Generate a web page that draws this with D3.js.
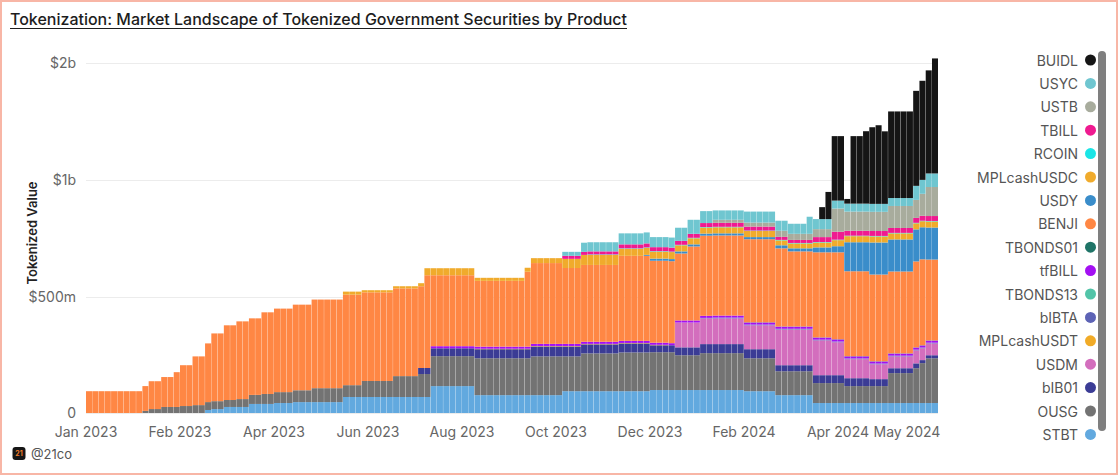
<!DOCTYPE html>
<html>
<head>
<meta charset="utf-8">
<script src="https://cdn.jsdelivr.net/npm/d3@7.9.0/dist/d3.min.js"></script>
<style>
  body { margin: 0; background: #fff; }
  svg { display: block; font-family: Inter, "Noto Sans", sans-serif; }
</style>
</head>
<body>
<svg id="chart" width="1120" height="476"></svg>
<script>
// values in $ millions, one entry per bar (136 bars, Jan 2023 -> May 2024)
const N = 136;

const STBT = [
  0,0,0,0,0,0,0,0,0,0,  0,0,0,0,0,0,0,0,0,13,
  17,17,26,26,26,26,39,39,39,39,  43,43,43,47,47,47,47,47,47,47,
  47,69,69,69,69,69,69,69,69,69,  69,69,69,69,69,116,116,116,116,116,
  116,116,77,77,77,77,77,77,77,77,  77,77,77,77,77,77,94,94,94,94,
  94,94,94,94,94,94,94,94,94,94,  99,99,99,99,99,99,99,99,99,99,
  99,99,99,99,99,94,94,94,94,94,  77,77,77,77,77,77,43,43,43,43,
  43,43,43,43,43,43,43,43,43,43,  43,43,43,43,43,43];
const OUSG = [
  0,0,0,0,0,0,0,0,0,9,  17,17,26,26,26,30,30,34,34,34,
  34,34,30,30,34,34,39,39,43,43,  47,47,47,51,51,51,60,60,60,60,
  60,51,51,51,69,69,69,69,69,90,  90,90,90,99,99,129,129,129,129,129,
  129,129,159,159,159,159,159,159,159,159,  159,167,167,167,167,167,150,150,150,163,
  163,163,163,163,163,167,167,167,167,167,  163,163,163,163,150,150,150,150,159,159,
  159,159,159,159,159,142,142,142,142,142,  103,103,103,103,103,103,86,86,86,86,
  86,73,73,73,73,73,73,73,129,129,  129,129,150,172,193,193];
const bIB01 = [
  0,0,0,0,0,0,0,0,0,0,  0,0,0,0,0,0,0,0,0,0,
  0,0,0,0,0,0,0,0,0,0,  0,0,0,0,0,0,0,0,0,0,
  0,0,0,0,0,0,0,0,0,0,  0,0,0,26,26,34,34,34,34,34,
  34,34,39,39,39,39,39,39,39,39,  39,43,43,43,43,43,43,43,43,39,
  39,39,39,39,39,39,39,39,39,39,  30,30,30,30,34,34,34,34,39,39,
  39,39,39,39,39,39,39,39,39,39,  26,26,26,26,26,26,34,34,34,34,
  34,34,34,34,34,30,30,30,21,21,  21,21,21,13,13,13];
const USDM = [
  0,0,0,0,0,0,0,0,0,0,  0,0,0,0,0,0,0,0,0,0,
  0,0,0,0,0,0,0,0,0,0,  0,0,0,0,0,0,0,0,0,0,
  0,0,0,0,0,0,0,0,0,0,  0,0,0,0,0,0,0,0,0,0,
  0,0,0,0,0,0,0,0,0,0,  0,0,0,0,0,0,0,0,0,0,
  0,0,0,0,0,0,0,0,0,0,  0,0,0,0,107,107,107,107,111,111,
  111,111,111,111,111,103,103,103,103,103,  154,154,154,154,154,154,150,150,150,142,
  142,82,82,82,82,64,64,64,51,51,  51,51,56,51,51,51];
const MPLcashUSDT = [
  0,0,0,0,0,0,0,0,0,0,  0,0,0,0,0,0,0,0,0,0,
  0,0,0,0,0,0,0,0,0,0,  0,0,0,0,0,0,0,0,0,0,
  0,0,0,0,0,0,0,0,0,0,  0,0,0,0,0,0,0,0,0,0,
  0,0,2,2,2,2,2,2,2,2,  2,2,2,2,2,2,2,2,2,2,
  2,2,2,2,2,2,2,2,2,2,  2,2,2,0,0,0,0,0,0,0,
  0,0,0,0,0,0,0,0,0,0,  0,0,0,0,0,0,0,0,0,0,
  0,0,0,0,0,0,0,0,0,0,  0,0,0,0,0,0];
const bIBTA = [
  0,0,0,0,0,0,0,0,0,0,  0,0,0,0,0,0,0,0,0,0,
  0,0,0,0,0,0,0,0,0,0,  0,0,0,0,0,0,0,0,0,0,
  0,0,0,0,0,0,0,0,0,0,  0,0,0,0,0,0,0,0,0,0,
  0,0,0,0,0,0,0,0,0,0,  0,0,0,0,0,0,0,0,0,0,
  0,0,0,0,0,0,0,0,0,0,  0,0,0,0,0,0,0,0,2,2,
  2,2,2,2,2,2,2,2,2,2,  2,2,2,2,2,2,2,2,2,2,
  2,2,2,2,2,2,2,2,2,2,  2,2,2,2,2,2];
const TBONDS13 = [
  0,0,0,0,0,0,0,0,0,0,  0,0,0,0,0,0,0,0,0,0,
  0,0,0,0,0,0,0,0,0,0,  0,0,0,0,0,0,0,0,0,0,
  0,0,0,0,0,0,0,0,0,0,  0,0,0,0,0,0,0,0,0,0,
  0,0,0,0,0,0,0,0,0,0,  0,0,0,0,0,0,0,0,0,0,
  0,0,0,0,0,0,0,0,0,0,  0,0,0,0,0,0,0,0,0,0,
  1,1,1,1,1,1,1,1,1,1,  1,1,1,1,1,1,1,1,1,1,
  1,1,1,1,1,1,1,1,1,1,  1,1,1,1,1,1];
const tfBILL = [
  0,0,0,0,0,0,0,0,0,0,  0,0,0,0,0,0,0,0,0,0,
  0,0,0,0,0,0,0,0,0,0,  0,0,0,0,0,0,0,0,0,0,
  0,0,0,0,0,0,0,0,0,0,  0,0,0,0,0,9,9,9,9,9,
  9,9,9,9,9,9,9,9,9,9,  9,9,9,9,9,9,9,9,9,9,
  9,9,9,9,9,9,9,9,9,9,  9,9,9,9,9,9,9,9,9,9,
  9,9,9,9,9,9,9,9,9,9,  9,9,9,9,9,9,9,9,9,9,
  9,9,9,9,9,9,9,9,9,9,  9,9,9,9,9,9];
const TBONDS01 = [
  0,0,0,0,0,0,0,0,0,0,  0,0,0,0,0,0,0,0,0,0,
  0,0,0,0,0,0,0,0,0,0,  0,0,0,0,0,0,0,0,0,0,
  0,0,0,0,0,0,0,0,0,0,  0,0,0,0,0,0,0,0,0,0,
  0,0,0,0,0,0,0,0,0,0,  0,0,0,0,0,0,0,0,0,0,
  0,0,0,0,0,0,0,0,0,0,  0,0,0,0,0,0,0,0,0,0,
  0,0,0,0,0,1,1,1,1,1,  1,1,1,1,1,1,1,1,1,1,
  1,1,1,1,1,1,1,1,1,1,  1,1,1,1,1,1];
const BENJI = [
  94,94,94,94,94,94,94,94,94,107,  120,120,129,129,150,176,176,210,210,253,
  292,292,322,322,335,335,330,330,352,352,  360,360,360,369,369,369,382,382,382,382,
  382,390,390,390,382,382,382,382,382,378,  378,378,378,352,399,305,305,305,305,305,
  305,305,283,283,283,283,283,283,283,283,  322,347,347,347,347,347,326,326,326,330,
  330,330,330,330,330,365,365,365,365,365,  352,352,352,352,287,287,317,317,343,343,
  343,343,343,343,343,356,356,356,356,356,  335,335,322,322,322,322,365,365,365,373,
  373,365,365,365,365,373,373,373,352,352,  352,352,369,369,347,347];
const USDY = [
  0,0,0,0,0,0,0,0,0,0,  0,0,0,0,0,0,0,0,0,0,
  0,0,0,0,0,0,0,0,0,0,  0,0,0,0,0,0,0,0,0,0,
  0,0,0,0,0,0,0,0,0,0,  0,0,0,0,0,0,0,0,0,0,
  0,0,0,0,0,0,0,0,0,0,  0,0,0,0,0,0,0,0,0,0,
  0,0,0,0,0,0,0,0,0,4,  9,9,9,9,9,9,9,9,9,9,
  9,9,9,9,9,9,9,9,9,9,  13,13,13,13,13,13,21,21,21,26,
  26,124,124,124,124,137,137,137,137,137,  137,137,137,137,137,137];
const MPLcashUSDC = [
  0,0,0,0,0,0,0,0,0,0,  0,0,0,0,0,0,0,0,0,0,
  0,0,0,0,0,0,0,0,0,0,  0,0,0,0,0,0,0,0,0,0,
  0,13,13,13,9,9,9,9,9,9,  9,9,9,13,30,30,30,30,30,30,
  30,30,13,13,13,13,13,13,13,13,  17,21,21,21,21,21,39,39,39,43,
  43,43,43,43,43,30,30,30,30,30,  30,30,30,30,26,26,26,26,26,26,
  26,26,26,26,26,26,26,26,26,26,  21,21,21,21,21,21,21,21,21,26,
  26,26,26,26,26,26,26,26,26,26,  26,26,26,26,26,26];
const RCOIN = [
  0,0,0,0,0,0,0,0,0,0,  0,0,0,0,0,0,0,0,0,0,
  0,0,0,0,0,0,0,0,0,0,  0,0,0,0,0,0,0,0,0,0,
  0,0,0,0,0,0,0,0,0,0,  0,0,0,0,0,0,0,0,0,0,
  0,0,0,0,0,0,0,0,0,0,  0,0,0,0,0,0,0,0,0,0,
  2,2,2,2,2,2,2,2,2,2,  2,2,2,2,2,2,2,2,2,2,
  2,2,2,2,2,2,2,2,2,2,  2,2,2,2,2,2,2,2,2,2,
  2,2,2,2,2,2,2,2,2,2,  2,2,2,2,2,2];
const TBILL = [
  0,0,0,0,0,0,0,0,0,0,  0,0,0,0,0,0,0,0,0,0,
  0,0,0,0,0,0,0,0,0,0,  0,0,0,0,0,0,0,0,0,0,
  0,0,0,0,0,0,0,0,0,0,  0,0,0,0,0,0,0,0,0,0,
  0,0,0,0,0,0,0,0,0,0,  0,0,0,0,0,0,13,13,13,13,
  13,13,13,13,13,17,17,17,17,17,  17,17,17,17,17,17,17,17,17,17,
  17,17,17,17,17,17,17,17,17,17,  13,13,13,13,13,13,21,21,21,34,
  34,21,21,21,21,21,21,21,21,21,  21,21,21,21,21,21];
const USTB = [
  0,0,0,0,0,0,0,0,0,0,  0,0,0,0,0,0,0,0,0,0,
  0,0,0,0,0,0,0,0,0,0,  0,0,0,0,0,0,0,0,0,0,
  0,0,0,0,0,0,0,0,0,0,  0,0,0,0,0,0,0,0,0,0,
  0,0,0,0,0,0,0,0,0,0,  0,0,0,0,0,0,0,0,0,0,
  0,0,0,0,0,0,0,0,0,0,  0,0,0,0,0,0,0,0,0,0,
  13,13,13,13,13,17,17,17,17,17,  26,26,26,26,26,26,34,34,34,99,
  99,82,82,82,82,82,82,82,94,94,  94,94,77,94,124,124];
const USYC = [
  0,0,0,0,0,0,0,0,0,0,  0,0,0,0,0,0,0,0,0,0,
  0,0,0,0,0,0,0,0,0,0,  0,0,0,0,0,0,0,0,0,0,
  0,0,0,0,0,0,0,0,0,0,  0,0,0,0,0,0,0,0,0,0,
  0,0,0,0,0,0,0,0,0,0,  0,0,0,0,0,0,17,17,17,39,
  39,39,39,39,39,47,47,47,47,47,  43,43,43,43,56,56,60,60,51,51,
  40,40,40,40,40,47,47,47,47,47,  43,43,43,43,43,73,43,43,43,34,
  34,34,34,34,34,34,34,34,34,34,  34,34,60,60,86,86];
const BUIDL = [
  0,0,0,0,0,0,0,0,0,0,  0,0,0,0,0,0,0,0,0,0,
  0,0,0,0,0,0,0,0,0,0,  0,0,0,0,0,0,0,0,0,0,
  0,0,0,0,0,0,0,0,0,0,  0,0,0,0,0,0,0,0,0,0,
  0,0,0,0,0,0,0,0,0,0,  0,0,0,0,0,0,0,0,0,0,
  0,0,0,0,0,0,0,0,0,0,  0,0,0,0,0,0,0,0,0,0,
  0,0,0,0,0,0,0,0,0,0,  0,0,0,0,0,0,0,51,116,463,
  463,20,476,476,518,553,570,518,663,663,  663,663,787,847,881,983];

// legend order (top -> bottom); the stack is drawn bottom -> top
const legendKeys = ["BUIDL","USYC","USTB","TBILL","RCOIN","MPLcashUSDC","USDY","BENJI",
  "TBONDS01","tfBILL","TBONDS13","bIBTA","MPLcashUSDT","USDM","bIB01","OUSG","STBT"];
const legendColors = ["#151515","#6fc6d0","#a8ac9d","#ef1a90","#1ae5e6","#f0ab2c","#3a8dca","#ff8744",
  "#1f7467","#a310f2","#52c4a8","#5d63b5","#f1ab27","#d36ebd","#3b3c95","#737373","#62a9df"];

const tickIndex = [0, 15, 30, 45, 60, 75, 90, 105, 120, 131];
const tickLabels = ["Jan 2023","Feb 2023","Apr 2023","Jun 2023","Aug 2023","Oct 2023",
  "Dec 2023","Feb 2024","Apr 2024","May 2024"];
const yTicks = [0, 500, 1000, 2000];
const yTickLabels = ["0", "$500m", "$1b", "$2b"];

const series = {STBT, OUSG, bIB01, USDM, MPLcashUSDT, bIBTA, TBONDS13, tfBILL, TBONDS01,
  BENJI, USDY, MPLcashUSDC, RCOIN, TBILL, USTB, USYC, BUIDL};
Object.entries(series).forEach(([k, v]) => {
  if (v.length !== N) throw new Error(k + " has " + v.length + " values");
});

const stackKeys = legendKeys.slice().reverse();
const color = d3.scaleOrdinal(legendKeys, legendColors);

const rows = d3.range(N).map(i => {
  const row = { i };
  stackKeys.forEach(k => row[k] = series[k][i]);
  return row;
});

const svg = d3.select("#chart");

// page frame
svg.append("rect")
  .attr("x", 1).attr("y", 1).attr("width", 1116).attr("height", 473)
  .attr("fill", "none").attr("stroke", "#f8b6a6").attr("stroke-width", 2);

const x = d3.scaleBand().domain(d3.range(N)).range([86, 938]).paddingInner(0.04);
// the source axis is compressed above $1b
const y = d3.scaleLinear().domain(yTicks).range([413, 297, 180, 63]);

// y axis + gridlines
const yAxis = svg.append("g")
  .attr("transform", "translate(86,0)")
  .call(d3.axisLeft(y).tickValues(yTicks).tickFormat((d, i) => yTickLabels[i])
    .tickSize(-852).tickPadding(10));
yAxis.select(".domain").remove();
yAxis.selectAll("line").attr("stroke", "#ececec");
yAxis.selectAll("text").attr("fill", "#666").style("font-size", "14px")
  .style("font-family", "Inter, sans-serif");

// bars
const stacked = d3.stack().keys(stackKeys)(rows);
svg.append("g")
  .selectAll("g")
  .data(stacked)
  .join("g")
  .attr("fill", d => color(d.key))
  .selectAll("rect")
  .data(d => d.filter(p => p[1] - p[0] > 0))
  .join("rect")
  .attr("x", d => x(d.data.i))
  .attr("width", x.bandwidth())
  .attr("y", d => y(d[1]))
  .attr("height", d => y(d[0]) - y(d[1]));

// x axis, labels at the start of each tick bar
const xAxis = svg.append("g")
  .attr("transform", `translate(${-x.bandwidth() / 2},413)`)
  .call(d3.axisBottom(x).tickValues(tickIndex).tickFormat((d, i) => tickLabels[i])
    .tickSize(0).tickPadding(14));
xAxis.select(".domain").remove();
xAxis.selectAll("text").attr("fill", "#666").style("font-size", "14px")
  .style("font-family", "Inter, sans-serif");

// y axis title
svg.append("text")
  .attr("transform", "translate(32,233) rotate(-90)")
  .attr("text-anchor", "middle")
  .attr("dominant-baseline", "central")
  .attr("fill", "#222")
  .style("font-size", "13px")
  .style("font-weight", 600)
  .text("Tokenized Value");

// title
svg.append("text")
  .attr("x", 10).attr("y", 25)
  .attr("fill", "#1d1d1d")
  .attr("textLength", 617)
  .attr("lengthAdjust", "spacingAndGlyphs")
  .style("font-size", "16px")
  .style("font-weight", 500)
  .text("Tokenization: Market Landscape of Tokenized Government Securities by Product");
svg.append("line")
  .attr("x1", 10).attr("x2", 627).attr("y1", 28.5).attr("y2", 28.5)
  .attr("stroke", "#1d1d1d").attr("stroke-width", 1);

// legend
const legend = svg.append("g");
const item = legend.selectAll("g")
  .data(legendKeys)
  .join("g")
  .attr("transform", (d, i) => `translate(0,${60 + i * 23.4})`);
item.append("text")
  .attr("x", 1078)
  .attr("text-anchor", "end")
  .attr("dominant-baseline", "central")
  .attr("fill", "#555")
  .style("font-size", "14px")
  .text(d => d);
item.append("circle")
  .attr("cx", 1090.5)
  .attr("r", 5.5)
  .attr("fill", d => color(d));

// legend scrollbar
svg.append("rect")
  .attr("x", 1098).attr("y", 51).attr("width", 8).attr("height", 380).attr("rx", 4)
  .attr("fill", "#7f7f7f");

// footer
svg.append("rect")
  .attr("x", 12.5).attr("y", 447).attr("width", 13).attr("height", 13).attr("rx", 3)
  .attr("fill", "#161616");
svg.append("text")
  .attr("x", 19).attr("y", 453.8)
  .attr("text-anchor", "middle")
  .attr("dominant-baseline", "central")
  .attr("fill", "#f07c2a")
  .style("font-size", "7px")
  .style("font-weight", 700)
  .text("21");
svg.append("text")
  .attr("x", 31).attr("y", 454)
  .attr("dominant-baseline", "central")
  .attr("fill", "#555")
  .style("font-size", "13px")
  .text("@21co");
</script>
</body>
</html>
